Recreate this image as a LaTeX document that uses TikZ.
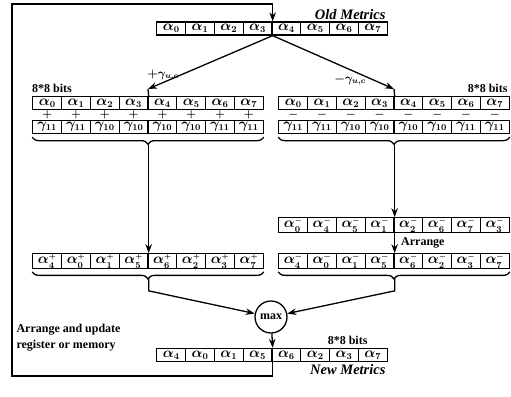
\documentclass[tikz,border=0pt]{standalone}
\usepackage{fontspec}
\setmainfont{Liberation Serif}
\usetikzlibrary{positioning,arrows.meta,decorations.pathreplacing,calc}

\begin{document}
\begin{tikzpicture}[
  x=1pt,y=-1pt,
  font=\fontsize{12}{16}\selectfont\bfseries\boldmath,
  cell/.style={draw,line width=1.3pt,minimum width=28.8pt,minimum height=13pt,inner sep=0pt,
    font=\fontsize{13.5}{14}\selectfont\bfseries\boldmath},
  edge/.style={-{Stealth[length=9pt,width=6.5pt]},line width=1.3pt},
  wire/.style={line width=1.3pt},
  brc/.style={decorate,decoration={brace,mirror,amplitude=7pt},line width=1.3pt},
  sign/.style={inner sep=0pt,font=\fontsize{11}{11}\selectfont\bfseries\boldmath},
  maxop/.style={draw,circle,line width=1.3pt,minimum size=32pt,inner sep=0pt},
  lbl/.style={font=\fontsize{14.5}{16}\selectfont\bfseries\itshape}
]
\useasboundingbox (0,0) rectangle (511,396);

% registers
\foreach \t [count=\i] in {0,...,7}
  \node[cell] (old\i) at ({272+28.8*(\i-4.5)},28.5) {$\alpha_{\t}$};
\foreach \t [count=\i] in {0,...,7}
  \node[cell] (la\i) at ({148+28.8*(\i-4.5)},103) {$\alpha_{\t}$};
\foreach \t [count=\i] in {0,...,7}
  \node[cell] (ra\i) at ({394+28.8*(\i-4.5)},103) {$\alpha_{\t}$};
\foreach \i in {1,...,8}
  \node[sign] (lsgn\i) at ({148+28.8*(\i-4.5)},115) {$+$};
\foreach \i in {1,...,8}
  \node[sign] (rsgn\i) at ({394+28.8*(\i-4.5)},115) {$-$};
\foreach \t [count=\i] in {11,11,10,10,10,10,11,11}
  \node[cell] (lg\i) at ({148+28.8*(\i-4.5)},127) {$\gamma_{\t}$};
\foreach \t [count=\i] in {11,11,10,10,10,10,11,11}
  \node[cell] (rg\i) at ({394+28.8*(\i-4.5)},127) {$\gamma_{\t}$};
\foreach \t [count=\i] in {0,4,5,1,2,6,7,3}
  \node[cell] (rt\i) at ({394+28.8*(\i-4.5)},225) {$\alpha_{\t}^{\scriptscriptstyle -}$};
\foreach \t [count=\i] in {4,0,1,5,6,2,3,7}
  \node[cell] (lp\i) at ({148+28.8*(\i-4.5)},261) {$\alpha_{\t}^{\scriptscriptstyle +}$};
\foreach \t [count=\i] in {4,0,1,5,6,2,3,7}
  \node[cell] (rm\i) at ({394+28.8*(\i-4.5)},261) {$\alpha_{\t}^{\scriptscriptstyle -}$};
\foreach \t [count=\i] in {4,0,1,5,6,2,3,7}
  \node[cell] (new\i) at ({272+28.8*(\i-4.5)},355) {$\alpha_{\t}$};

\node[maxop] (max) at (271,317) {max};

% labels
\node[lbl,anchor=east] (oldlbl) at (389,15) {Old Metrics};
\node[lbl,anchor=east] (newlbl) at (389,370) {New Metrics};
\node (lbits) at (52,88) {8*8 bits};
\node[anchor=east] (rbits) at (511,88) {8*8 bits};
\node[anchor=east] (nbits) at (371,340) {8*8 bits};
\node (gp) at (163,75) {$+\gamma_{u,c}$};
\node (gm) at (350,80) {$-\gamma_{u,c}$};
\node[anchor=west,align=left] (upd) at (13,338) {Arrange and update\\register or memory};

% split
\coordinate (lt) at (148,89);
\coordinate (rt) at (394,89);
\draw[edge] (old4.south east) -- (lt);
\draw[edge] (old4.south east) -- (rt);
\draw[wire] (lt) -- (la4.north east);
\draw[wire] (rt) -- (ra4.north east);

% braces
\draw[brc] ([yshift=-3pt]lg1.south west) -- ([yshift=-3pt]lg8.south east);
\draw[brc] ([yshift=-3pt]rg1.south west) -- ([yshift=-3pt]rg8.south east);
\draw[brc] ([yshift=-3pt]lp1.south west) -- ([yshift=-3pt]lp8.south east);
\draw[brc] ([yshift=-3pt]rm1.south west) -- ([yshift=-3pt]rm8.south east);
\coordinate (lbt) at ([yshift=-10pt]lg4.south east);
\coordinate (rbt) at ([yshift=-10pt]rg4.south east);
\coordinate (lbb) at ([yshift=-10pt]lp4.south east);
\coordinate (rbb) at ([yshift=-10pt]rm4.south east);

\draw[edge] (lbt) -- (lp4.north east);
\draw[edge] (rbt) -- (rt4.north east);
\draw[edge] (rt4.south east) -- (rm4.north east);
\node[anchor=west] (arr) at ([xshift=3pt]$(rt4.south east)!0.5!(rm4.north east)$) {Arrange};

\draw[edge] (lbb) -- ++(0,12) -- (max);
\draw[edge] (rbb) -- ++(0,12) -- (max);
\draw[edge] (max) -- (new4.north east);

% feedback
\coordinate (fbl) at (12,376);
\coordinate (ftl) at (12,4);
\draw[edge] (new4.south east) |- (fbl) -- (ftl) -| (old4.north east);
\end{tikzpicture}
\end{document}
